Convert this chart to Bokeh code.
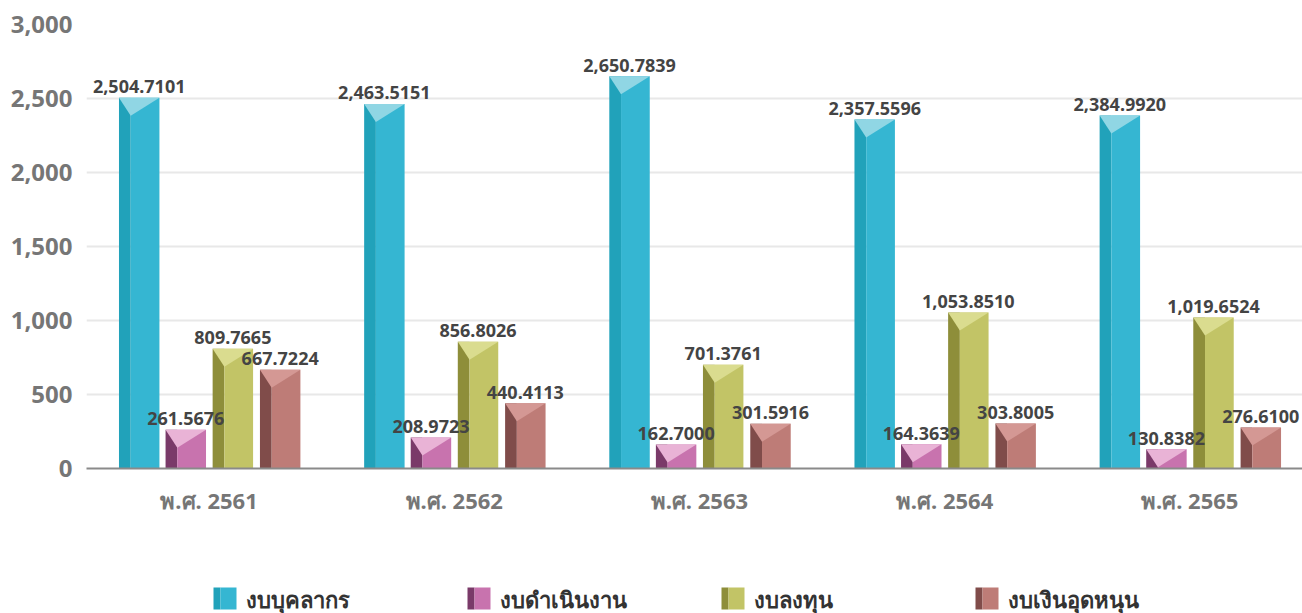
from bokeh.plotting import figure
from bokeh.layouts import column
from bokeh.models import ColumnDataSource, FixedTicker, NumeralTickFormatter, Range1d
from bokeh.core.properties import value
from bokeh.embed import file_html
from bokeh.resources import INLINE

years = ["พ.ศ. 2561", "พ.ศ. 2562", "พ.ศ. 2563", "พ.ศ. 2564", "พ.ศ. 2565"]
series_names = ["งบบุคลากร", "งบดำเนินงาน", "งบลงทุน", "งบเงินอุดหนุน"]
personnel = [2504.7101, 2463.5151, 2650.7839, 2357.5596, 2384.9920]
operating = [261.5676, 208.9723, 162.7000, 164.3639, 130.8382]
investment = [809.7665, 856.8026, 701.3761, 1053.8510, 1019.6524]
subsidy = [667.7224, 440.4113, 301.5916, 303.8005, 276.6100]
y_ticks = [0, 500, 1000, 1500, 2000, 2500, 3000]

main_colors = ["#35B6D2", "#C873AE", "#C2C466", "#BE7C77"]
dark_colors = ["#21A2BA", "#7A3A69", "#8E8E3A", "#804C4A"]
top_colors = ["#90D6E4", "#E9B3D6", "#DADC8F", "#D49894"]

all_series = [personnel, operating, investment, subsidy]
offsets = [-0.285, -0.095, 0.097, 0.29]
bar_w = 0.165
strip_frac = 0.29
FONT = "Noto Sans"
W = 1302
LEFT = 86

p = figure(width=W, height=560, output_backend="svg", toolbar_location=None,
           x_range=Range1d(-0.5, 4.46), y_range=Range1d(0, 3000),
           min_border_left=LEFT, min_border_right=0, min_border_top=24, min_border_bottom=92)
p.outline_line_color = None
p.background_fill_color = "white"
p.border_fill_color = "white"

# pixel-based depth of the top facet (18px at 444px per 3000 units)
depth = 18 * 3000 / 444

label_sources = []
for k, vals in enumerate(all_series):
    xs = [i + offsets[k] for i in range(len(vals))]
    left = [x - bar_w / 2 for x in xs]
    mid = [x - bar_w / 2 + bar_w * strip_frac for x in xs]
    right = [x + bar_w / 2 for x in xs]
    src = ColumnDataSource(dict(x=xs, left=left, mid=mid, right=right, top=vals,
                                label=[f"{v:,.4f}" for v in vals]))
    p.quad(left="left", right="mid", bottom=0, top="top", source=src,
           fill_color=dark_colors[k], line_color=None)
    p.quad(left="mid", right="right", bottom=0, top="top", source=src,
           fill_color=main_colors[k], line_color=None)
    tri_x = [[l, r, m] for l, r, m in zip(left, right, mid)]
    tri_y = [[v, v, v - depth] for v in vals]
    p.patches(xs=tri_x, ys=tri_y, fill_color=top_colors[k], line_color=None)
    label_sources.append(src)

for src in label_sources:
    p.text(x="x", y="top", text="label", source=src, text_align="center",
           text_baseline="alphabetic", y_offset=-11, text_font=value(FONT),
           text_font_size="18px", text_font_style="bold", text_color="#444444")

p.xaxis.ticker = FixedTicker(ticks=list(range(len(years))))
p.xaxis.major_label_overrides = {i: y for i, y in enumerate(years)}
p.xaxis.major_label_text_font = FONT
p.xaxis.major_label_text_font_size = "22px"
p.xaxis.major_label_text_font_style = "bold"
p.xaxis.major_label_text_color = "#767676"
p.xaxis.major_label_standoff = 10
p.xaxis.major_tick_line_color = None
p.xaxis.minor_tick_line_color = None
p.xaxis.axis_line_color = "#8a8a8a"
p.xaxis.axis_line_width = 2

p.yaxis.ticker = FixedTicker(ticks=y_ticks)
p.yaxis.formatter = NumeralTickFormatter(format="0,0")
p.yaxis.major_label_text_font = FONT
p.yaxis.major_label_text_font_size = "24px"
p.yaxis.major_label_text_font_style = "bold"
p.yaxis.major_label_text_color = "#767676"
p.yaxis.major_label_standoff = 8
p.yaxis.major_tick_line_color = None
p.yaxis.minor_tick_line_color = None
p.yaxis.axis_line_color = None

p.xgrid.grid_line_color = None
p.ygrid.grid_line_color = "#e8e8e8"
p.ygrid.grid_line_width = 2

# legend strip (own figure in pixel units; frame aligned with the main frame)
LH = 53
lg = figure(width=W, height=LH, output_backend="svg", toolbar_location=None,
            x_range=Range1d(LEFT, W), y_range=Range1d(0, LH),
            min_border_left=LEFT, min_border_right=0, min_border_top=0, min_border_bottom=0,
            outline_line_color=None)
lg.axis.visible = False
lg.grid.visible = False
leg_start, leg_step, icon_w, icon_h, strip_w = 213, 254, 23, 22, 7
icon_left = [leg_start + i * leg_step for i in range(len(series_names))]
lsrc = ColumnDataSource(dict(
    l=icon_left, m=[x + strip_w for x in icon_left], r=[x + icon_w for x in icon_left],
    tx=[x + icon_w + 9 for x in icon_left], name=series_names,
    dark=dark_colors, main=main_colors))
lg.quad(left="l", right="m", bottom=4, top=4 + icon_h, source=lsrc,
        fill_color="dark", line_color=None)
lg.quad(left="m", right="r", bottom=4, top=4 + icon_h, source=lsrc,
        fill_color="main", line_color=None)
lg.text(x="tx", y=15, text="name", source=lsrc, text_baseline="middle",
        text_font=value(FONT), text_font_size="22px", text_font_style="bold",
        text_color="#333333")

open("out.html", "w").write(file_html(column(p, lg, spacing=0), INLINE))
